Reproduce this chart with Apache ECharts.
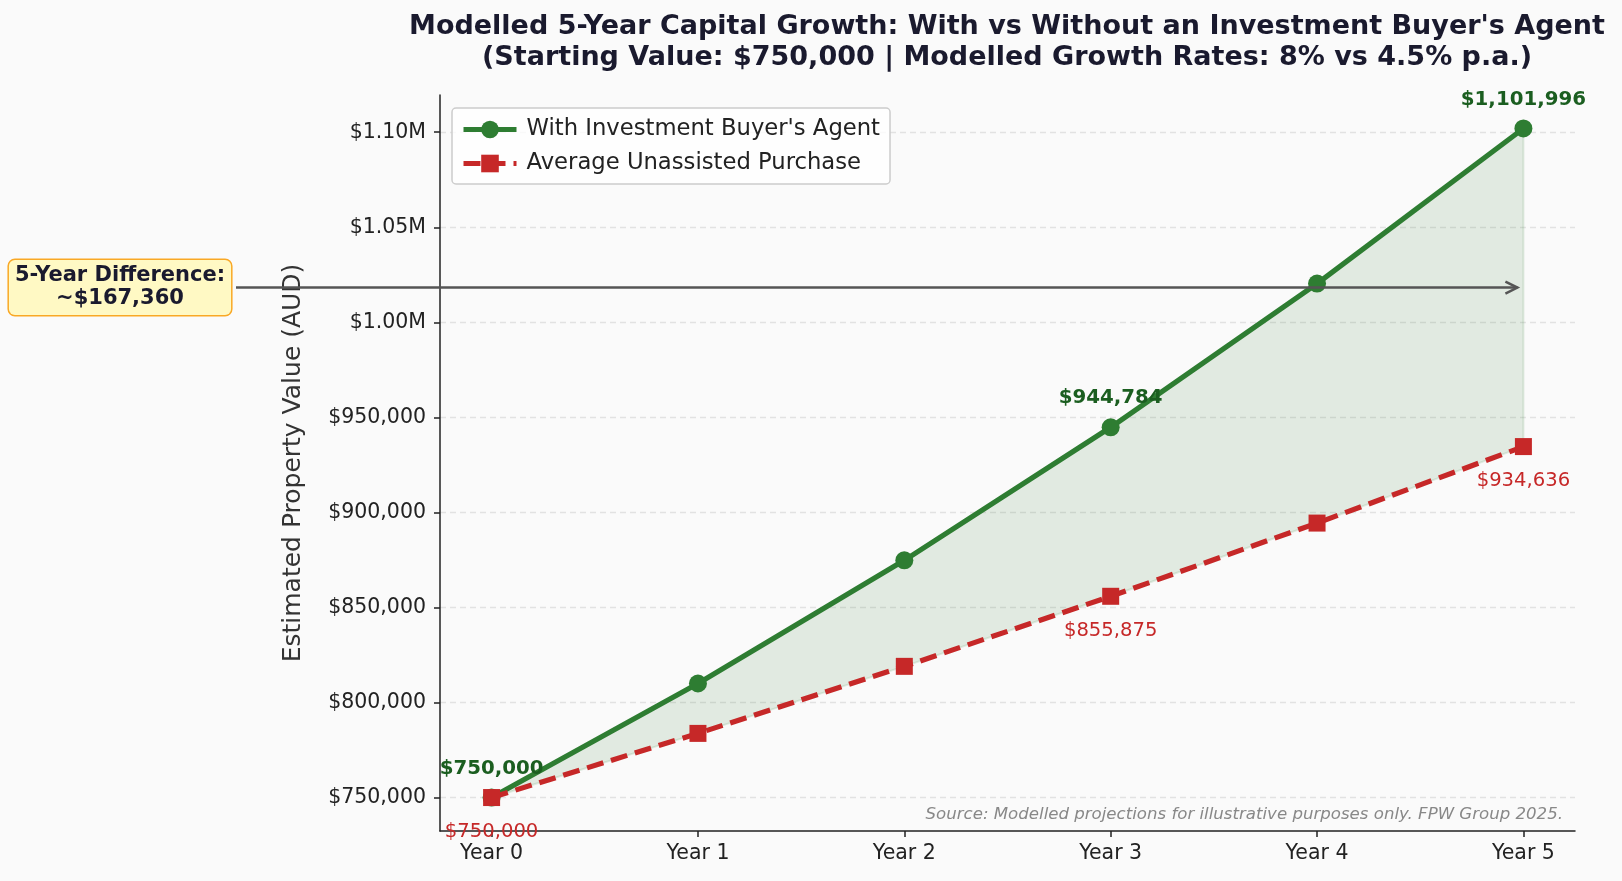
<!DOCTYPE html>
<html>
<head>
<meta charset="utf-8">
<script src="https://cdn.jsdelivr.net/npm/echarts@6/dist/echarts.min.js"></script>
<style>
  html, body { margin: 0; padding: 0; background: #fafafa; }
  #chart { width: 1622px; height: 881px; }
</style>
</head>
<body>
<div id="chart"></div>
<script>
// 数据
const years = [0, 1, 2, 3, 4, 5];
const withAgent = [750000, 810000, 874800, 944784, 1020367, 1101996];
const unassisted = [750000, 783750, 819019, 855875, 894389, 934636];
const labelledYears = [0, 3, 5];
const yTicks = [750000, 800000, 850000, 900000, 950000, 1000000, 1050000, 1100000];

const FONT = 'DejaVu Sans';
const GREEN = '#2e7d32';
const RED = '#c62828';

const money = v => '$' + Math.round(v).toLocaleString('en-US');
const tickFmt = v => v >= 1000000 ? '$' + (v / 1000000).toFixed(2) + 'M' : money(v);

// matplotlib 风格的 5% 边距
const lo = Math.min(...unassisted), hi = Math.max(...withAgent);
const pad = (hi - lo) * 0.05;
const xPad = (years[years.length - 1] - years[0]) * 0.05;

const pairs = arr => years.map((x, i) => [x, arr[i]]);

const chart = echarts.init(document.getElementById('chart'));

const options = {
  backgroundColor: '#fafafa',
  animation: false,
  textStyle: { fontFamily: FONT },
  grid: { left: 440, right: 47, top: 95, bottom: 50 },
  legend: {
    data: [
      { name: "With Investment Buyer's Agent", lineStyle: { width: 5 } },
      { name: 'Average Unassisted Purchase', lineStyle: { width: 5 } }
    ],
    orient: 'vertical',
    left: 452, top: 108,
    padding: [10, 10, 9, 9],
    itemGap: 11,
    itemWidth: 53, itemHeight: 22,
    backgroundColor: 'rgba(255,255,255,0.8)',
    borderColor: '#cccccc', borderWidth: 1.5, borderRadius: 4,
    textStyle: { fontFamily: FONT, fontSize: 22.7, color: '#222', padding: [0, 0, 0, 5] }
  },
  xAxis: {
    type: 'value',
    min: years[0] - xPad, max: years[years.length - 1] + xPad,
    axisLine: { onZero: false, lineStyle: { color: '#222', width: 1.5 } },
    axisTick: { show: true, length: 6, customValues: years, lineStyle: { color: '#222', width: 1.5 } },
    axisLabel: { customValues: years, formatter: v => 'Year ' + v, fontSize: 20.5, color: '#222', margin: 12, fontFamily: FONT },
    splitLine: { show: false }
  },
  yAxis: {
    type: 'value',
    min: lo - pad, max: hi + pad,
    name: 'Estimated Property Value (AUD)',
    nameLocation: 'middle', nameGap: 134,
    nameTextStyle: { fontSize: 25, color: '#333', fontFamily: FONT },
    axisLine: { show: true, onZero: false, lineStyle: { color: '#222', width: 1.5 } },
    axisTick: { show: true, length: 6, customValues: yTicks, lineStyle: { color: '#222', width: 1.5 } },
    axisLabel: { customValues: yTicks, formatter: tickFmt, fontSize: 20.5, color: '#222', margin: 14, fontFamily: FONT },
    splitLine: { show: true, lineStyle: { color: '#e2e2e2', width: 1.3, type: [6, 4] } }
  },
  series: [
    {
      // 两条线之间的填充
      name: 'band', type: 'custom', silent: true, z: 1,
      data: [[years[0], lo]],
      renderItem: (params, api) => {
        const top = years.map((x, i) => api.coord([x, withAgent[i]]));
        const bot = years.map((x, i) => api.coord([x, unassisted[i]])).reverse();
        return {
          type: 'polygon',
          shape: { points: top.concat(bot) },
          style: { fill: 'rgba(46,125,50,0.12)', stroke: 'rgba(46,125,50,0.13)', lineWidth: 2 }
        };
      }
    },
    {
      name: "With Investment Buyer's Agent", type: 'line', data: pairs(withAgent),
      z: 3,
      symbol: 'circle', symbolSize: 18,
      itemStyle: { color: GREEN },
      lineStyle: { color: GREEN, width: 5.2 },
      label: {
        show: true, position: 'top', distance: 10,
        formatter: p => labelledYears.includes(p.data[0]) ? money(p.data[1]) : '',
        color: '#1b5e20', fontWeight: 'bold', fontSize: 19.8, fontFamily: FONT
      }
    },
    {
      name: 'Average Unassisted Purchase', type: 'line', data: pairs(unassisted),
      z: 4,
      symbol: 'rect', symbolSize: 17,
      itemStyle: { color: RED },
      lineStyle: { color: RED, width: 5.2, type: [17, 8] },
      label: {
        show: true, position: 'bottom', distance: 16,
        formatter: p => labelledYears.includes(p.data[0]) ? money(p.data[1]) : '',
        color: RED, fontSize: 19.6, fontFamily: FONT
      }
    }
  ]
};

chart.setOption(options);

// 标注: 5年差值箭头
const lastX = years[years.length - 1];
const lastGap = withAgent[withAgent.length - 1] - unassisted[unassisted.length - 1];
const midY = (withAgent[withAgent.length - 1] + unassisted[unassisted.length - 1]) / 2;
const end = chart.convertToPixel({ xAxisIndex: 0, yAxisIndex: 0 }, [lastX, midY]);
const tipX = end[0] - 6, arrowY = end[1];
const startX = 236;

chart.setOption({
  graphic: [
    {
      type: 'text', x: 1007, y: 11, z: 10,
      style: {
        text: "Modelled 5-Year Capital Growth: With vs Without an Investment Buyer's Agent\n(Starting Value: $750,000 | Modelled Growth Rates: 8% vs 4.5% p.a.)",
        align: 'center', verticalAlign: 'top',
        font: 'bold 27px "DejaVu Sans"', fill: '#1a1a2e', lineHeight: 31
      }
    },
    {
      type: 'line', z: 10,
      shape: { x1: startX, y1: arrowY, x2: tipX, y2: arrowY },
      style: { stroke: '#555', lineWidth: 2.5 }
    },
    {
      type: 'polyline', z: 10,
      shape: { points: [[tipX - 12, arrowY - 6], [tipX, arrowY], [tipX - 12, arrowY + 6]] },
      style: { stroke: '#555', lineWidth: 2.5, fill: null }
    },
    {
      type: 'text', z: 11, x: 120, y: arrowY,
      style: {
        text: '5-Year Difference:\n~' + money(lastGap),
        align: 'center', verticalAlign: 'middle',
        font: 'bold 21px "DejaVu Sans"', fill: '#1a1a2e', lineHeight: 23,
        backgroundColor: '#fff9c4', borderColor: '#f9a825', borderWidth: 1.5, borderRadius: 6,
        padding: [5, 6, 4, 6]
      }
    },
    {
      type: 'text', z: 10, x: 1563, y: 815,
      style: {
        text: 'Source: Modelled projections for illustrative purposes only. FPW Group 2025.',
        align: 'right', verticalAlign: 'middle',
        font: 'italic 16.6px "DejaVu Sans"', fill: '#888'
      }
    }
  ]
});
</script>
</body>
</html>
